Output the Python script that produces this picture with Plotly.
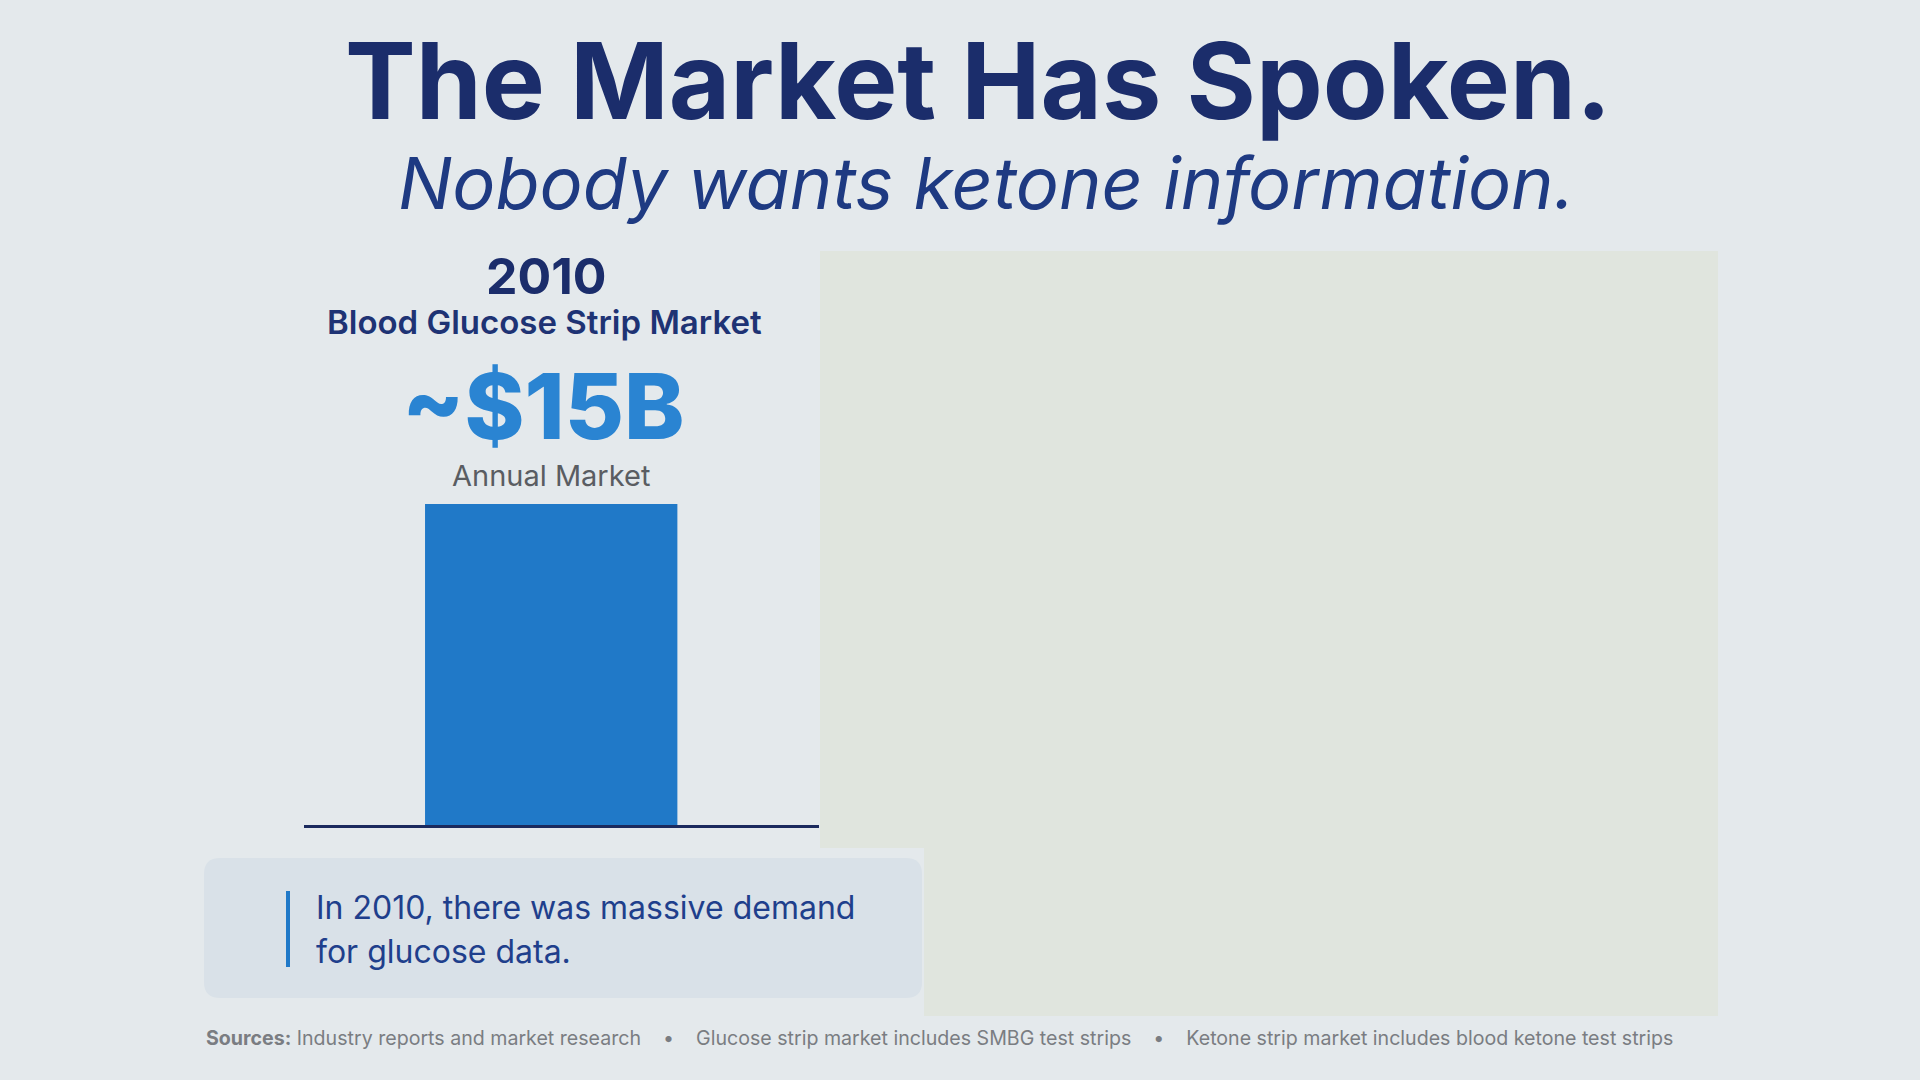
import plotly.graph_objects as go

# data
years = ["2010"]
market_size_b = [15]
headline = "The Market Has Spoken."
subheadline = "Nobody wants ketone information."
panel_year = "2010"
panel_title = "Blood Glucose Strip Market"
value_label = "~$15B"
value_caption = "Annual Market"
callout_lines = ["In 2010, there was massive demand", "for glucose data."]
footnotes = ["Industry reports and market research",
             "Glucose strip market includes SMBG test strips",
             "Ketone strip market includes blood ketone test strips"]

W, H = 1920, 1080
NAVY = "#1B2D6B"
BLUE = "#2079C8"
BG = "#E4E9EC"
FONT = "Inter"


def px(x):
    return x / W


def py(y):
    return 1 - y / H


def rounded_rect(x0, y0, x1, y1, r):
    # pixel box -> paper path with rounded corners
    rx, ry = r / W, r / H
    a0, a1 = px(x0), px(x1)
    b0, b1 = py(y1), py(y0)
    return (f"M {a0+rx},{b0} L {a1-rx},{b0} Q {a1},{b0} {a1},{b0+ry} "
            f"L {a1},{b1-ry} Q {a1},{b1} {a1-rx},{b1} L {a0+rx},{b1} "
            f"Q {a0},{b1} {a0},{b1-ry} L {a0},{b0+ry} Q {a0},{b0} {a0+rx},{b0} Z")


fig = go.Figure()
fig.add_trace(go.Bar(x=years, y=market_size_b, marker=dict(color=BLUE, line_width=0),
                     width=0.49, hoverinfo="skip"))

shapes = [
    # right-hand panel
    dict(type="rect", xref="paper", yref="paper", x0=px(820), x1=px(1718), y0=py(1016), y1=py(251),
         fillcolor="#E0E5DE", line_width=0, layer="below"),
    # gap around the callout
    dict(type="rect", xref="paper", yref="paper", x0=px(820), x1=px(924), y0=py(1016), y1=py(848),
         fillcolor=BG, line_width=0, layer="below"),
    # callout box
    dict(type="path", xref="paper", yref="paper", path=rounded_rect(204, 858, 922, 998, 16),
         fillcolor="#D9E1E8", line_width=0, layer="below"),
    # callout accent
    dict(type="line", xref="paper", yref="paper", x0=px(288), x1=px(288), y0=py(967), y1=py(891),
         line=dict(color=BLUE, width=4)),
]

annotations = [
    dict(text=f"<b>{headline}</b>", x=px(978), y=py(80),
         font=dict(size=106, color=NAVY, family=FONT, weight=800)),
    dict(text=subheadline, x=px(986), y=py(182),
         font=dict(size=72, color="#1E3A82", family=FONT, style="italic")),
    dict(text=panel_year, x=px(546), y=py(276),
         font=dict(size=50, color=NAVY, family=FONT, weight=700)),
    dict(text=panel_title, x=px(544), y=py(322),
         font=dict(size=33, color="#1E3374", family=FONT, weight=600)),
    dict(text=value_label, x=px(543), y=py(406),
         font=dict(size=91, color="#2A84D2", family=FONT, weight=800)),
    dict(text=value_caption, x=px(551), y=py(475),
         font=dict(size=29, color="#5A5D62", family=FONT)),
]
for i, line in enumerate(callout_lines):
    annotations.append(dict(text=line, x=px(314), y=py(907 + 44 * i), xanchor="left",
                            font=dict(size=32, color="#1F3F8C", family=FONT)))

sep = "\u00a0\u00a0\u00a0\u00a0•\u00a0\u00a0\u00a0\u00a0"
annotations.append(dict(text="<b>Sources:</b> " + sep.join(footnotes), x=px(204), y=py(1038),
                        xanchor="left", font=dict(size=19.6, color="#7A7D82", family=FONT)))

for a in annotations:
    a.setdefault("xanchor", "center")
    a.update(xref="paper", yref="paper", yanchor="middle", showarrow=False)

fig.update_layout(
    width=W, height=H,
    margin=dict(l=0, r=0, t=0, b=0),
    paper_bgcolor=BG, plot_bgcolor="rgba(0,0,0,0)",
    showlegend=False,
    shapes=shapes, annotations=annotations,
    xaxis=dict(domain=[px(304), px(819)], type="category", range=[-0.48, 0.52],
               showticklabels=False, showgrid=False, zeroline=False, ticks="",
               showline=True, linecolor="#1B2A5E", linewidth=3, fixedrange=True),
    yaxis=dict(domain=[py(825), py(504)], range=[0, 15], visible=False, fixedrange=True),
)

fig.write_html("out.html", config={"displayModeBar": False},
               post_script="document.body.style.margin='0';")
